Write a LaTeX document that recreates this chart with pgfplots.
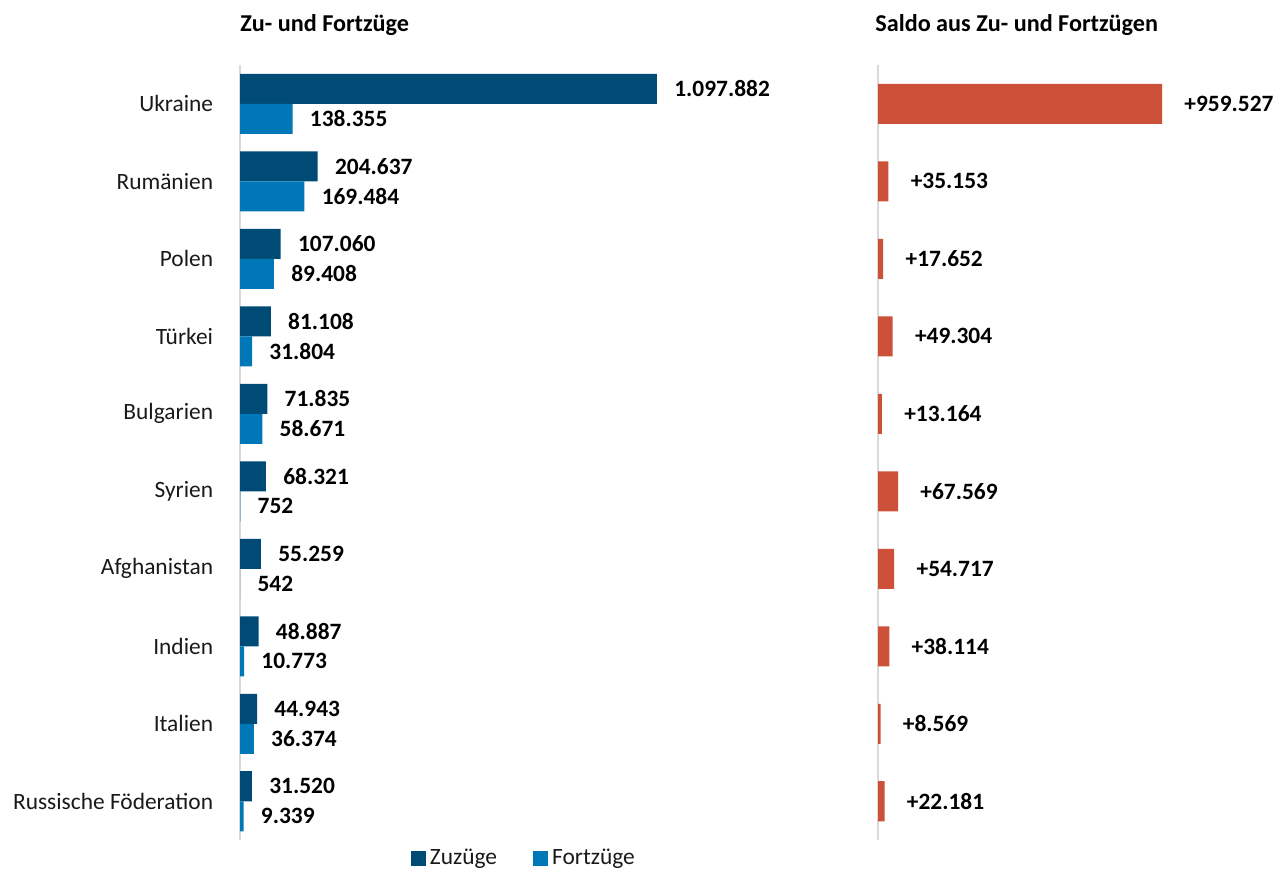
\documentclass[border=0pt]{standalone}
\usepackage{pgfplots}
\pgfplotsset{compat=1.18}
\usepackage{pgfplotstable}
\usepackage{fontspec}
\setmainfont{Carlito}

\definecolor{zublau}{HTML}{004B76}
\definecolor{fortblau}{HTML}{0077B6}
\definecolor{saldorot}{HTML}{CD5139}
\definecolor{achsgrau}{HTML}{D9D9D9}

% idx 9 = Ukraine (oben) ... 0 = Russische Foederation (unten)
\pgfplotstableread{
idx zu      fort    saldo
9   1097882 138355  959527
8   204637  169484  35153
7   107060  89408   17652
6   81108   31804   49304
5   71835   58671   13164
4   68321   752     67569
3   55259   542     54717
2   48887   10773   38114
1   44943   36374   8569
0   31520   9339    22181
}\daten

\pgfplotsset{
  panel/.style={
    scale only axis,
    height=387.5bp,
    ymin=-0.5, ymax=9.5,
    xmin=0,
    xbar,
    clip=false,
    axis x line=none,
    axis y line*=left,
    y axis line style={draw=achsgrau, line width=1.2bp},
    ytick={0,...,9},
    ytick style={draw=none},
    xtick=\empty,
    font=\fontsize{11.7bp}{14bp}\selectfont,
    /pgf/number format/assume math mode=true,
    point meta=x,
    every node near coord/.append style={font=\fontsize{11.7bp}{14bp}\selectfont\bfseries,
      anchor=west, inner sep=0pt, text=black},
  },
}

\begin{document}
\begin{tikzpicture}
\path[use as bounding box] (0,0) rectangle (643.5bp,435.5bp);

\begin{axis}[panel,
  at={(120bp,15.5bp)}, anchor=south west,
  width=284.85bp, xmax=1500000,
  yticklabels={Russische Föderation,Italien,Indien,Afghanistan,Syrien,Bulgarien,Türkei,Polen,Rumänien,Ukraine},
  yticklabel style={anchor=east, inner sep=0pt, xshift=-9bp, text=black!90},
  bar width=15bp,
  nodes near coords={\pgfmathprintnumber[fixed,precision=0,1000 sep={.}]{\pgfplotspointmeta}},
  every node near coord/.append style={xshift=8.5bp},
  legend style={at={(0.5,-0.024)}, anchor=center, draw=none, fill=none,
    legend columns=2, inner sep=0pt,
    font=\fontsize{11.7bp}{14bp}\selectfont,
    nodes={inner sep=2bp, text=black!90},
    /tikz/every even column/.append style={column sep=16bp}},
  legend image code/.code={\fill[#1] (0bp,-3.75bp) rectangle (7.5bp,3.75bp);},
]
\addplot[fill=zublau, draw=none, bar shift=7.5bp] table[x=zu, y=idx] {\daten};
\addlegendentry{Zuzüge}
\addplot[fill=fortblau, draw=none, bar shift=-7.5bp] table[x=fort, y=idx] {\daten};
\addlegendentry{Fortzüge}
\end{axis}

\begin{axis}[panel,
  at={(439bp,15.5bp)}, anchor=south west,
  width=192.4bp, xmax=1300000,
  yticklabels={},
  bar width=20bp,
  nodes near coords={+\pgfmathprintnumber[fixed,precision=0,1000 sep={.}]{\pgfplotspointmeta}},
  every node near coord/.append style={xshift=11bp},
]
\addplot[fill=saldorot, draw=none, bar shift=0bp] table[x=saldo, y=idx] {\daten};
\end{axis}

\node[anchor=base west, inner sep=0pt, font=\fontsize{12.1bp}{14bp}\selectfont\bfseries]
  at (120bp,419.5bp) {Zu- und Fortzüge};
\node[anchor=base west, inner sep=0pt, font=\fontsize{12.1bp}{14bp}\selectfont\bfseries]
  at (437.5bp,419.5bp) {Saldo aus Zu- und Fortzügen};
\end{tikzpicture}
\end{document}
